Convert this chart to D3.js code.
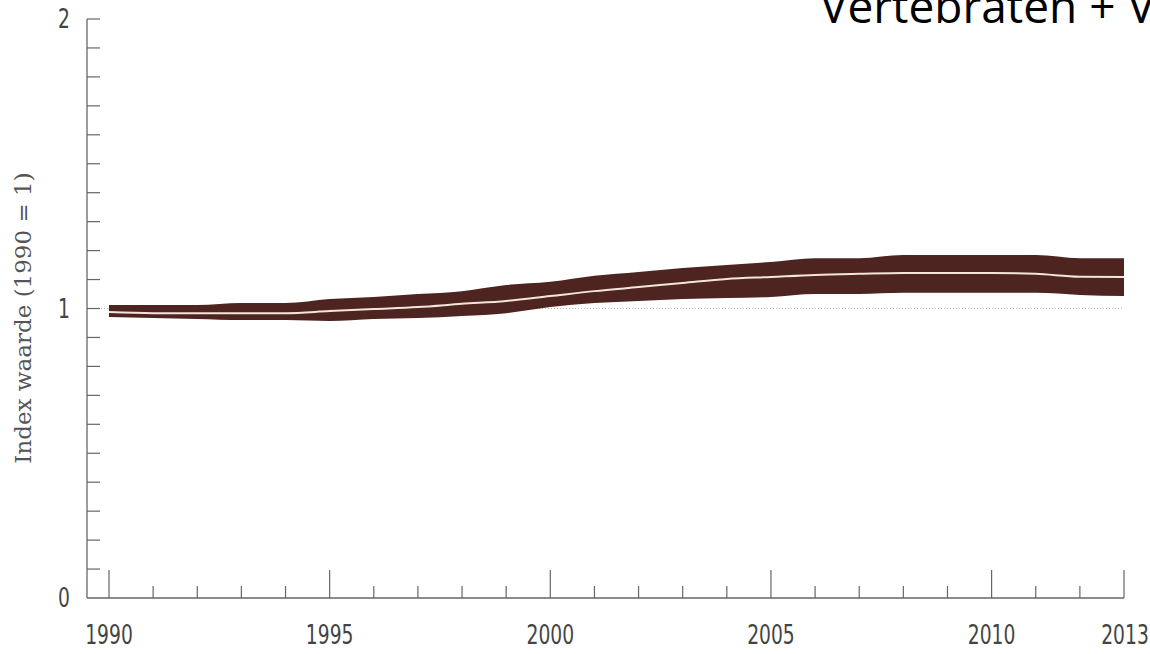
<!DOCTYPE html>
<html>
<head>
<meta charset="utf-8">
<script src="https://cdn.jsdelivr.net/npm/d3@7"></script>
<style>
  body { margin: 0; background: #fff; }
  svg { display: block; }
  .tick-label { font-family: "DejaVu Sans", sans-serif; font-stretch: condensed; font-size: 26px; fill: #444; }
</style>
</head>
<body>
<svg id="chart" width="1150" height="654"></svg>
<script>
// years and index values (1990 = 1)
var years = d3.range(1990, 2014);
var upper = [1.012, 1.012, 1.012, 1.019, 1.019, 1.033, 1.040, 1.050, 1.060, 1.081, 1.092, 1.113,
             1.126, 1.140, 1.150, 1.161, 1.174, 1.174, 1.185, 1.185, 1.185, 1.185, 1.174, 1.174];
var mean  = [0.988, 0.984, 0.984, 0.984, 0.984, 0.991, 0.998, 1.005, 1.016, 1.026, 1.043, 1.060,
             1.074, 1.088, 1.102, 1.109, 1.116, 1.120, 1.123, 1.123, 1.123, 1.120, 1.110, 1.109];
var lower = [0.971, 0.967, 0.964, 0.960, 0.960, 0.957, 0.964, 0.967, 0.974, 0.984, 1.005, 1.019,
             1.026, 1.033, 1.036, 1.040, 1.050, 1.050, 1.054, 1.054, 1.054, 1.054, 1.047, 1.043];
var xLabels = [1990, 1995, 2000, 2005, 2010, 2013];
var yLabels = [0, 1, 2];
var title = "Vertebraten + V";
var yTitle = "Index waarde (1990 = 1)";

var svg = d3.select("#chart");

var x = d3.scaleLinear().domain([1990, 2013]).range([109, 1124]);
var y = d3.scaleLinear().domain([0, 2]).range([598, 19]);

var rows = years.map(function(d, i) {
  return { year: d, hi: upper[i], mid: mean[i], lo: lower[i] };
});

// reference line at 1
svg.append("line")
    .attr("x1", 92).attr("x2", x(2013))
    .attr("y1", y(1)).attr("y2", y(1))
    .attr("stroke", "#bbb")
    .attr("stroke-width", 1)
    .attr("stroke-dasharray", "1,2");

// band
var area = d3.area()
    .x(function(d) { return x(d.year); })
    .y0(function(d) { return y(d.lo); })
    .y1(function(d) { return y(d.hi); })
    .curve(d3.curveMonotoneX);

svg.append("path")
    .datum(rows)
    .attr("d", area)
    .attr("fill", "#4e2420");

var line = d3.line()
    .x(function(d) { return x(d.year); })
    .y(function(d) { return y(d.mid); })
    .curve(d3.curveMonotoneX);

svg.append("path")
    .datum(rows)
    .attr("d", line)
    .attr("fill", "none")
    .attr("stroke", "#f3e4dc")
    .attr("stroke-width", 2);

// axes
var axisColor = "#666";

svg.append("line")
    .attr("x1", 87).attr("x2", 87)
    .attr("y1", y(2)).attr("y2", y(0))
    .attr("stroke", axisColor).attr("stroke-width", 1.3);

svg.append("line")
    .attr("x1", 87).attr("x2", x(2013))
    .attr("y1", y(0)).attr("y2", y(0))
    .attr("stroke", axisColor).attr("stroke-width", 1.3);

var yTicks = d3.range(1, 21).map(function(d) { return d / 10; });
svg.append("g").selectAll("line")
    .data(yTicks)
    .enter().append("line")
    .attr("x1", 87).attr("x2", 100)
    .attr("y1", function(d) { return y(d); })
    .attr("y2", function(d) { return y(d); })
    .attr("stroke", axisColor).attr("stroke-width", 1.2);

svg.append("g").selectAll("line")
    .data(years)
    .enter().append("line")
    .attr("x1", function(d) { return x(d); })
    .attr("x2", function(d) { return x(d); })
    .attr("y1", function(d) { return xLabels.indexOf(d) >= 0 ? y(0) - 28 : y(0) - 12; })
    .attr("y2", y(0))
    .attr("stroke", axisColor).attr("stroke-width", 1.2);

// condensed tick labels: squeeze horizontally
svg.append("g").selectAll("text")
    .data(xLabels)
    .enter().append("text")
    .attr("class", "tick-label")
    .attr("transform", function(d) {
      var cx = d === 2013 ? 1125 : x(d);
      return "translate(" + cx + ",644) scale(0.8,1)";
    })
    .attr("text-anchor", "middle")
    .text(function(d) { return d; });

svg.append("g").selectAll("text")
    .data(yLabels)
    .enter().append("text")
    .attr("class", "tick-label")
    .attr("transform", function(d) { return "translate(70," + y(d) + ") scale(0.8,1)"; })
    .attr("dy", "0.36em")
    .attr("text-anchor", "end")
    .text(function(d) { return d; });

svg.append("text")
    .attr("transform", "translate(31,318) rotate(-90)")
    .attr("text-anchor", "middle")
    .style("font-family", "'DejaVu Serif', serif")
    .style("font-size", "23px")
    .style("fill", "#555")
    .text(yTitle);

svg.append("text")
    .attr("x", 820)
    .attr("y", 23)
    .style("font-family", "'Open Sans', sans-serif")
    .style("font-size", "46px")
    .style("fill", "#000")
    .text(title);
</script>
</body>
</html>
